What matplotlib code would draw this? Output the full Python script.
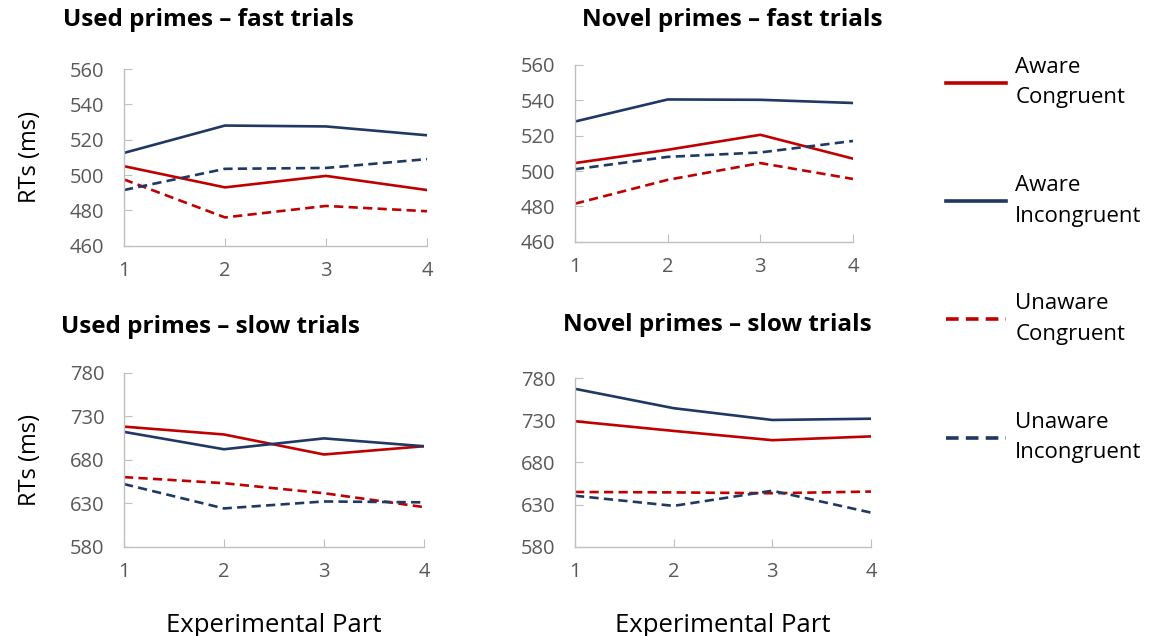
import matplotlib.pyplot as plt
from matplotlib.lines import Line2D

plt.rcParams['font.family'] = ['Open Sans', 'DejaVu Sans']

parts = [1, 2, 3, 4]

# Used primes - fast trials
used_fast_aware_con = [505, 493, 499.5, 491.5]
used_fast_aware_inc = [512.5, 528, 527.5, 522.5]
used_fast_unaware_con = [497.5, 476, 482.5, 479.5]
used_fast_unaware_inc = [491.5, 503.5, 504, 509]

# Novel primes - fast trials
novel_fast_aware_con = [504.5, 512, 520.5, 507]
novel_fast_aware_inc = [528, 540.5, 540.3, 538.5]
novel_fast_unaware_con = [481.5, 495, 504.5, 495.5]
novel_fast_unaware_inc = [501, 508, 510.5, 517]

# Used primes - slow trials
used_slow_aware_con = [718, 709, 686, 695.5]
used_slow_aware_inc = [712, 692, 704.5, 695.5]
used_slow_unaware_con = [660, 653, 641.5, 625.5]
used_slow_unaware_inc = [652, 624, 632, 631]

# Novel primes - slow trials
novel_slow_aware_con = [729, 717.5, 706.5, 711]
novel_slow_aware_inc = [767.5, 744.5, 730.5, 732]
novel_slow_unaware_con = [645, 644.5, 643.5, 645.5]
novel_slow_unaware_inc = [640.5, 628.5, 646.5, 620.5]

legend_labels = ["Aware\nCongruent", "Aware\nIncongruent",
                 "Unaware\nCongruent", "Unaware\nIncongruent"]

red = "#C00000"
navy = "#1F3864"
grey_txt = "#595959"
grey_ax = "#BFBFBF"
styles = [(red, "-"), (navy, "-"), (red, (0, (3.5, 2))), (navy, (0, (3.5, 2)))]

fig = plt.figure(figsize=(11.53, 6.36), dpi=100)

panels = [
    ([0.1075, 0.6137, 0.2628, 0.2778], "Used primes – fast trials",
     [used_fast_aware_con, used_fast_aware_inc, used_fast_unaware_con, used_fast_unaware_inc],
     (460, 560), range(460, 561, 20), True, False, (0.0546, 0.9686)),
    ([0.4987, 0.6200, 0.2411, 0.2778], "Novel primes – fast trials",
     [novel_fast_aware_con, novel_fast_aware_inc, novel_fast_unaware_con, novel_fast_unaware_inc],
     (460, 560), range(460, 561, 20), False, False, (0.5048, 0.9686)),
    ([0.1075, 0.1404, 0.2602, 0.2736], "Used primes – slow trials",
     [used_slow_aware_con, used_slow_aware_inc, used_slow_unaware_con, used_slow_unaware_inc],
     (580, 780), range(580, 781, 50), True, True, (0.0525, 0.486)),
    ([0.4987, 0.1404, 0.2567, 0.2648], "Novel primes – slow trials",
     [novel_slow_aware_con, novel_slow_aware_inc, novel_slow_unaware_con, novel_slow_unaware_inc],
     (580, 780), range(580, 781, 50), False, True, (0.4883, 0.489)),
]

for rect, title, series, ylim, yticks, ylab, xlab, tpos in panels:
    ax = fig.add_axes(rect)
    for vals, (c, ls) in zip(series, styles):
        ax.plot(parts, vals, color=c, linestyle=ls, linewidth=1.9)
    ax.set_xlim(1, 4)
    ax.set_ylim(*ylim)
    ax.set_xticks(parts)
    ax.set_yticks(list(yticks))
    for s in ["top", "right"]:
        ax.spines[s].set_visible(False)
    for s in ["left", "bottom"]:
        ax.spines[s].set_color(grey_ax)
        ax.spines[s].set_linewidth(1.0)
    ax.tick_params(axis="both", direction="in", length=6, color=grey_ax,
                   labelsize=14.5, labelcolor=grey_txt)
    ax.tick_params(axis="y", pad=14)
    ax.tick_params(axis="x", pad=11)
    fig.text(tpos[0], tpos[1], title, fontsize=17.5, fontweight="bold",
             color="black", ha="left", va="center")
    if ylab:
        ax.set_ylabel("RTs (ms)", fontsize=17, color="black")
        w_px = rect[2] * 1153
        ax.yaxis.set_label_coords((42 - rect[0] * 1153) / w_px, 0.5)
    if xlab:
        ax.set_xlabel("Experimental Part", fontsize=18.5, color="black", labelpad=22)

handles = [Line2D([0], [0], color=c, linestyle=ls, linewidth=2.6) for c, ls in styles]
leg = fig.legend(handles, legend_labels, loc="upper left", bbox_to_anchor=(0.8035, 0.942),
                 frameon=False, fontsize=16, handlelength=2.7, handletextpad=0.4,
                 labelspacing=3.0)
for t in leg.get_texts():
    t.set_linespacing(1.6)

fig.savefig("out.png", dpi=100)
